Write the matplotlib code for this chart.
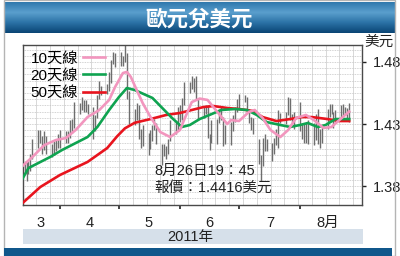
import matplotlib
matplotlib.use("Agg")
import matplotlib.pyplot as plt
from matplotlib.colors import LinearSegmentedColormap
import numpy as np
import pandas as pd

plt.rcParams['font.family'] = ['Liberation Sans', 'Noto Sans CJK TC', 'DejaVu Sans']

# ---- data -------------------------------------------------------------
title = "歐元兌美元"
year_label = "2011年"
unit_label = "美元"
quote_lines = ["8月26日19：45", "報價：1.4416美元"]
month_labels = ["3", "4", "5", "6", "7", "8月"]
month_centers = ["2011-03-22", "2011-04-16", "2011-05-16", "2011-06-16", "2011-07-17", "2011-08-15"]
month_edges = ["2011-04-01", "2011-05-01", "2011-06-01", "2011-07-01", "2011-08-01"]
y_ticks = [1.38, 1.43, 1.48]

trade_days = pd.bdate_range("2011-03-14", "2011-08-26")

# daily high / low, one row per week (Mon..Fri)
highs = [
    1.3990, 1.4000, 1.4000, 1.4060, 1.4180,
    1.4250, 1.4250, 1.4200, 1.4240, 1.4200,
    1.4140, 1.4160, 1.4170, 1.4220, 1.4250,
    1.4240, 1.4240, 1.4330, 1.4340, 1.4480,
    1.4470, 1.4520, 1.4490, 1.4490, 1.4460,
    1.4440, 1.4370, 1.4530, 1.4650, 1.4610,
    1.4620, 1.4720, 1.4820, 1.4880, 1.4870,
    1.4880, 1.4850, 1.4940, 1.4870, 1.4570,
    1.4420, 1.4470, 1.4450, 1.4260, 1.4290,
    1.4230, 1.4250, 1.4290, 1.4340, 1.4310,
    1.4140, 1.4140, 1.4120, 1.4180, 1.4330,
    1.4320, 1.4440, 1.4450, 1.4510, 1.4640,
    1.4640, 1.4690, 1.4670, 1.4690, 1.4500,
    1.4440, 1.4450, 1.4450, 1.4220, 1.4330,
    1.4340, 1.4420, 1.4440, 1.4360, 1.4290,
    1.4320, 1.4370, 1.4440, 1.4500, 1.4540,
    1.4530, 1.4520, 1.4420, 1.4360, 1.4350,
    1.4180, 1.4050, 1.4190, 1.4220, 1.4180,
    1.4150, 1.4190, 1.4260, 1.4410, 1.4390,
    1.4400, 1.4520, 1.4510, 1.4380, 1.4400,
    1.4480, 1.4300, 1.4300, 1.4320, 1.4330,
    1.4310, 1.4380, 1.4420, 1.4260, 1.4290,
    1.4420, 1.4460, 1.4460, 1.4400, 1.4410,
    1.4450, 1.4460, 1.4440, 1.4430, 1.4470,
]
lows = [
    1.3900, 1.3840, 1.3900, 1.3920, 1.4020,
    1.4110, 1.4150, 1.4060, 1.4090, 1.4060,
    1.4030, 1.4050, 1.4080, 1.4110, 1.4110,
    1.4150, 1.4150, 1.4190, 1.4230, 1.4270,
    1.4380, 1.4410, 1.4400, 1.4400, 1.4380,
    1.4180, 1.4240, 1.4350, 1.4500, 1.4530,
    1.4540, 1.4570, 1.4630, 1.4780, 1.4760,
    1.4770, 1.4770, 1.4800, 1.4500, 1.4300,
    1.4290, 1.4330, 1.4180, 1.4110, 1.4120,
    1.4050, 1.4100, 1.4160, 1.4250, 1.4140,
    1.3970, 1.4040, 1.4020, 1.4060, 1.4160,
    1.4220, 1.4250, 1.4320, 1.4330, 1.4450,
    1.4550, 1.4580, 1.4560, 1.4490, 1.4330,
    1.4350, 1.4380, 1.4190, 1.4090, 1.4150,
    1.4140, 1.4310, 1.4330, 1.4120, 1.4140,
    1.4130, 1.4240, 1.4320, 1.4400, 1.4430,
    1.4480, 1.4390, 1.4310, 1.4250, 1.4220,
    1.3980, 1.3840, 1.3960, 1.4080, 1.4080,
    1.4000, 1.4060, 1.4130, 1.4110, 1.4310,
    1.4300, 1.4370, 1.4330, 1.4300, 1.4260,
    1.4240, 1.4180, 1.4150, 1.4150, 1.4140,
    1.4130, 1.4170, 1.4140, 1.4110, 1.4150,
    1.4260, 1.4360, 1.4380, 1.4270, 1.4310,
    1.4360, 1.4360, 1.4370, 1.4350, 1.4320,
]

ma10_dates = ["03-13", "03-18", "03-24", "03-30", "04-04", "04-09", "04-15", "04-21",
              "04-26", "04-29", "05-03", "05-05", "05-07", "05-10", "05-13", "05-17",
              "05-22", "05-27", "06-01", "06-03", "06-07", "06-11", "06-15", "06-20",
              "06-25", "06-27", "07-01", "07-06", "07-09", "07-13", "07-17", "07-22",
              "07-26", "07-30", "08-04", "08-08", "08-13", "08-17", "08-21", "08-24",
              "08-26"]
ma10 = [1.3962, 1.4034, 1.4130, 1.4171, 1.4187, 1.4252, 1.4356, 1.4413,
        1.4494, 1.4598, 1.4711, 1.4720, 1.4680, 1.4574, 1.4470, 1.4356,
        1.4235, 1.4195, 1.4252, 1.4330, 1.4477, 1.4505, 1.4494, 1.4397,
        1.4300, 1.4332, 1.4324, 1.4397, 1.4413, 1.4348, 1.4252, 1.4195,
        1.4252, 1.4348, 1.4373, 1.4332, 1.4268, 1.4276, 1.4332, 1.4373,
        1.4400]

ma20_dates = ["03-13", "03-16", "03-27", "04-02", "04-15", "04-20", "04-26", "05-01",
              "05-05", "05-09", "05-18", "05-23", "05-28", "06-02", "06-06", "06-11",
              "06-16", "06-22", "06-29", "07-05", "07-10", "07-15", "07-22", "07-27",
              "08-01", "08-05", "08-10", "08-14", "08-19", "08-24", "08-26"]
ma20 = [1.3860, 1.3945, 1.4034, 1.4090, 1.4195, 1.4276, 1.4413, 1.4518,
        1.4590, 1.4574, 1.4510, 1.4429, 1.4348, 1.4276, 1.4292, 1.4340,
        1.4373, 1.4413, 1.4421, 1.4413, 1.4373, 1.4316, 1.4292, 1.4276,
        1.4292, 1.4308, 1.4276, 1.4292, 1.4340, 1.4340, 1.4340]

ma50_dates = ["03-13", "03-22", "04-01", "04-15", "04-25", "04-30", "05-04", "05-09",
              "05-17", "05-25", "06-01", "06-07", "06-13", "06-18", "06-25", "07-01",
              "07-08", "07-13", "07-20", "07-27", "08-02", "08-07", "08-15", "08-21",
              "08-26"]
ma50 = [1.3663, 1.3792, 1.3889, 1.3994, 1.4106, 1.4200, 1.4265, 1.4310,
        1.4340, 1.4373, 1.4389, 1.4413, 1.4437, 1.4445, 1.4429, 1.4421,
        1.4405, 1.4356, 1.4324, 1.4340, 1.4356, 1.4356, 1.4340, 1.4324,
        1.4324]


def to_dates(md):
    return pd.to_datetime(["2011-" + s for s in md])


# ---- figure -----------------------------------------------------------
fig = plt.figure(figsize=(4, 2.56), dpi=100)
fig.patch.set_facecolor("white")

# outer border
fig.add_artist(plt.Rectangle((4 / 400, 0), 391 / 400, 1, transform=fig.transFigure,
                             fill=False, edgecolor="#b4b4b4", lw=1))

# title banner
bax = fig.add_axes([4 / 400, 1 - 33 / 256, 391 / 400, 31 / 256])
cmap = LinearSegmentedColormap.from_list("banner", ["#2f78ad", "#5a9fcd", "#2b72a6", "#0a4575"])
bax.imshow(np.linspace(0, 1, 64).reshape(-1, 1), aspect="auto", cmap=cmap,
           extent=(0, 1, 0, 1))
bax.set_axis_off()
bax.text(0.5, 0.45, title, color="white", fontsize=15.5, fontweight="bold",
         ha="center", va="center", family=["Noto Sans CJK TC"])

# bottom blue strip
fig.add_artist(plt.Rectangle((4 / 400, 0), 388 / 400, 8 / 256, transform=fig.transFigure,
                             facecolor="#10578b", edgecolor="none"))

# year band
fig.add_artist(plt.Rectangle((23 / 400, 1 - 244 / 256), 340 / 400, 15 / 256,
                             transform=fig.transFigure, facecolor="#d6e0ea", edgecolor="none"))
fig.text(190 / 400, 1 - 236.5 / 256, year_label, fontsize=10.5, ha="center", va="center",
         color="#222222")

ax = fig.add_axes([23 / 400, 1 - 205 / 256, 339 / 400, 160 / 256])
ax.set_facecolor("white")

# grid
weeks = pd.date_range("2011-03-13", "2011-09-01", freq="W-SUN")
for w in weeks:
    ax.axvline(w, color="#d2d2d2", lw=0.6, zorder=0)
for yv in np.arange(1.365, 1.4951, 0.005):
    ax.axhline(yv, color="#c4c4c4", lw=0.6, ls=(0, (1, 1)), zorder=0)

# high-low bars
ax.vlines(trade_days, lows, highs, color="#6e6e6e", lw=1.0, zorder=2)

ax.plot(to_dates(ma50_dates), ma50, color="#e8141e", lw=1.9, label="50天線", zorder=3)
ax.plot(to_dates(ma20_dates), ma20, color="#0fa350", lw=1.9, label="20天線", zorder=4)
ax.plot(to_dates(ma10_dates), ma10, color="#f296be", lw=1.9, label="10天線", zorder=5)

ax.set_xlim(pd.Timestamp("2011-03-13 05:00"), pd.Timestamp("2011-09-01 12:00"))
ax.set_ylim(1.3647, 1.4937)

for s in ax.spines.values():
    s.set_color("#4a4a4a")
    s.set_linewidth(1.0)

ax.yaxis.tick_right()
ax.set_yticks(y_ticks)
ax.set_yticklabels([f"{v:.2f}" for v in y_ticks])
ax.tick_params(axis="y", direction="out", length=3, width=1, pad=5, labelsize=10.5,
               colors="#222222")

ax.set_xticks(pd.to_datetime(month_edges))
ax.set_xticklabels([])
ax.set_xticks(pd.to_datetime(month_centers), minor=True)
ax.set_xticklabels(month_labels, minor=True)
ax.tick_params(axis="x", which="major", direction="out", length=3, width=1.2,
               colors="#222222")
ax.tick_params(axis="x", which="minor", length=0, pad=8, labelsize=10.5,
               labelcolor="#222222")

fig.text(379 / 400, 1 - 42 / 256, unit_label, fontsize=10.5, ha="center", va="center",
         color="#222222")

handles, labels = ax.get_legend_handles_labels()
ax.legend(handles[::-1], labels[::-1], loc="upper left", bbox_to_anchor=(-0.005, 1.015),
          frameon=False, markerfirst=False, fontsize=11, handlelength=1.5,
          handletextpad=0.3, labelspacing=0.2, borderaxespad=0.2)

ax.text(0.388, 0.21, quote_lines[0], transform=ax.transAxes, fontsize=10.5,
        va="center", ha="left", color="#222222")
ax.text(0.388, 0.105, quote_lines[1], transform=ax.transAxes, fontsize=10.5,
        va="center", ha="left", color="#222222")

fig.savefig("out.png", dpi=100)
